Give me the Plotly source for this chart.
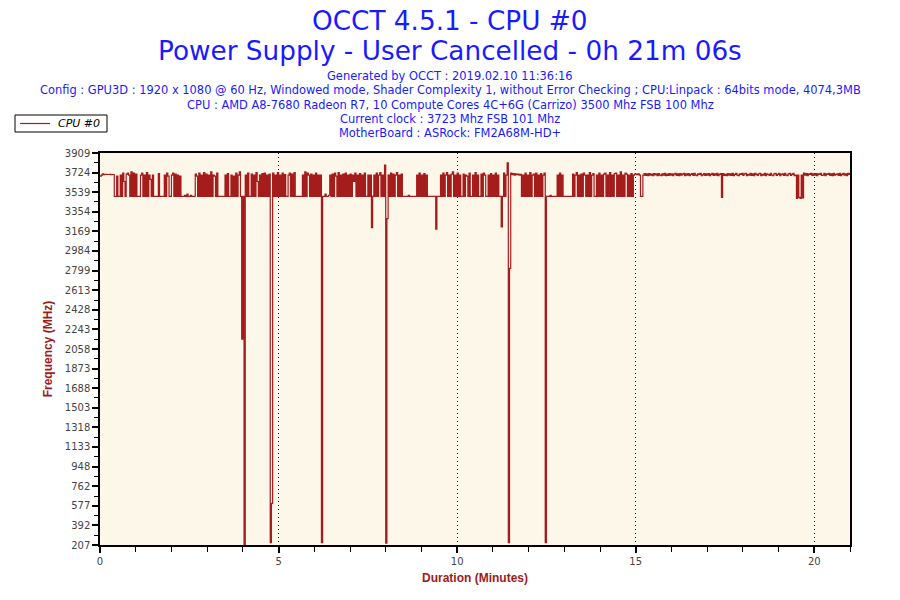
import plotly.graph_objects as go

# ---- data: CPU #0 clock (MHz), one row per minute, one value every 2 s ----
SAMPLE_SECONDS = 2
clock_rows = [
    # 0
    [3690, 3700, 3712, 3705, 3708, 3708, 3706, 3706, 3707, 3705, 3706, 3706, 3500, 3500, 3690,
     3500, 3500, 3700, 3500, 3720, 3640, 3500, 3710, 3720, 3700, 3500, 3730, 3500, 3720, 3500],
    # 1
    [3710, 3500, 3500, 3500, 3700, 3720, 3500, 3700, 3500, 3725, 3500, 3700, 3660, 3500, 3700,
     3500, 3500, 3500, 3500, 3715, 3500, 3500, 3500, 3500, 3700, 3500, 3720, 3690, 3500, 3500],
    # 2
    [3700, 3720, 3500, 3710, 3500, 3700, 3500, 3690, 3500, 3500, 3500, 3510, 3500, 3520, 3500,
     3500, 3510, 3500, 3500, 3500, 3710, 3690, 3500, 3720, 3500, 3700, 3500, 3725, 3500, 3710],
    # 3
    [3500, 3700, 3500, 3730, 3500, 3700, 3690, 3500, 3720, 3500, 3500, 3500, 3500, 3500, 3500,
     3700, 3500, 3715, 3500, 3500, 3700, 3500, 3690, 3500, 3720, 3500, 3700, 3730, 3500, 2150],
    # 4
    [3500, 207, 3700, 3500, 3720, 3500, 3500, 3710, 3500, 3700, 3500, 3725, 3640, 3500, 3700,
     3500, 3715, 3500, 3720, 3500, 3700, 3500, 3710, 230, 600, 3720, 3500, 3700, 3500, 3725],
    # 5
    [3500, 3700, 3500, 3720, 3500, 3705, 3500, 3500, 3700, 3720, 3500, 3710, 3500, 3725, 3500,
     3500, 3500, 3500, 3500, 3500, 3700, 3500, 3730, 3500, 3720, 3700, 3500, 3710, 3500, 3700],
    # 6
    [3500, 3720, 3500, 3700, 3500, 3700, 230, 3500, 3500, 3520, 3500, 3500, 3510, 3700, 3500,
     3710, 3500, 3720, 3690, 3500, 3725, 3500, 3700, 3500, 3710, 3500, 3720, 3500, 3700, 3500],
    # 7
    [3710, 3500, 3700, 3640, 3720, 3500, 3700, 3500, 3715, 3500, 3700, 3500, 3720, 3500, 3500,
     3700, 3500, 3700, 3205, 3500, 3700, 3500, 3720, 3500, 3700, 3725, 3500, 3700, 3500, 3795],
    # 8
    [225, 3290, 3700, 3500, 3720, 3500, 3710, 3500, 3700, 3725, 3500, 3700, 3500, 3710, 3500,
     3500, 3500, 3500, 3500, 3510, 3500, 3500, 3500, 3500, 3500, 3500, 3700, 3500, 3720, 3500],
    # 9
    [3700, 3500, 3715, 3500, 3700, 3500, 3500, 3500, 3500, 3500, 3500, 3500, 3190, 3500, 3500,
     3500, 3700, 3500, 3720, 3500, 3700, 3725, 3500, 3700, 3500, 3710, 3730, 3500, 3700, 3500],
    # 10
    [3720, 3500, 3700, 3500, 3500, 3710, 3500, 3700, 3690, 3500, 3720, 3500, 3500, 3700, 3500,
     3725, 3500, 3700, 3500, 3500, 3710, 3500, 3720, 3700, 3500, 3500, 3700, 3500, 3715, 3500],
    # 11
    [3700, 3500, 3720, 3500, 3700, 3500, 3500, 3212, 3500, 3720, 3500, 3700, 3815, 230, 2820,
     3720, 3705, 3715, 3700, 3712, 3705, 3710, 3700, 3708, 3500, 3700, 3500, 3720, 3500, 3700],
    # 12
    [3500, 3725, 3500, 3700, 3710, 3500, 3720, 3500, 3700, 3500, 3715, 3500, 3700, 3720, 230,
     3500, 3500, 3500, 3510, 3500, 3500, 3500, 3500, 3500, 3700, 3500, 3720, 3500, 3700, 3500],
    # 13
    [3500, 3500, 3500, 3500, 3500, 3500, 3500, 3710, 3500, 3700, 3725, 3500, 3700, 3500, 3710,
     3500, 3720, 3700, 3500, 3700, 3500, 3725, 3500, 3700, 3715, 3500, 3500, 3700, 3500, 3720],
    # 14
    [3500, 3700, 3500, 3710, 3720, 3500, 3700, 3500, 3725, 3500, 3700, 3500, 3715, 3720, 3500,
     3700, 3500, 3730, 3500, 3700, 3500, 3720, 3710, 3500, 3700, 3500, 3715, 3500, 3700, 3710],
    # 15
    [3710, 3705, 3712, 3700, 3500, 3500, 3700, 3714, 3698, 3712, 3696, 3714, 3700, 3710, 3694,
     3714, 3702, 3712, 3696, 3714, 3700, 3694, 3712, 3700, 3716, 3696, 3710, 3698, 3714, 3700],
    # 16
    [3712, 3696, 3710, 3716, 3698, 3712, 3694, 3714, 3700, 3710, 3716, 3696, 3712, 3700, 3714,
     3694, 3708, 3714, 3698, 3716, 3700, 3694, 3712, 3706, 3716, 3696, 3702, 3714, 3698, 3712],
    # 17
    [3700, 3714, 3694, 3708, 3716, 3698, 3712, 3700, 3716, 3696, 3708, 3714, 3490, 3714, 3698,
     3708, 3694, 3714, 3700, 3712, 3698, 3716, 3694, 3708, 3716, 3700, 3696, 3712, 3706, 3716],
    # 18
    [3698, 3712, 3716, 3694, 3708, 3700, 3716, 3698, 3712, 3694, 3716, 3708, 3698, 3712, 3716,
     3696, 3708, 3700, 3716, 3694, 3712, 3706, 3698, 3716, 3700, 3694, 3712, 3716, 3698, 3708],
    # 19
    [3716, 3694, 3708, 3712, 3698, 3716, 3700, 3694, 3712, 3716, 3698, 3708, 3716, 3696, 3700,
     3480, 3700, 3490, 3480, 3700, 3485, 3720, 3700, 3714, 3696, 3712, 3706, 3716, 3698, 3712],
    # 20
    [3700, 3714, 3694, 3712, 3706, 3716, 3698, 3700, 3716, 3694, 3712, 3706, 3716, 3698, 3712,
     3694, 3716, 3700, 3708, 3712, 3698, 3716, 3694, 3708, 3716, 3700, 3712, 3696, 3716, 3706],
    # 21
    [3712, 3698, 3714],
]

mhz = [v for row in clock_rows for v in row]
times = [i * SAMPLE_SECONDS / 60 for i in range(len(mhz))]  # sample clock in minutes

y_ticks = [207, 392, 577, 762, 948, 1133, 1318, 1503, 1688, 1873, 2058, 2243,
           2428, 2613, 2799, 2984, 3169, 3354, 3539, 3724, 3909]
x_ticks = [0, 5, 10, 15, 20]

title_lines = ["OCCT 4.5.1 - CPU #0", "Power Supply - User Cancelled - 0h 21m 06s"]
info_lines = [
    "Generated by OCCT : 2019.02.10 11:36:16",
    "Config : GPU3D : 1920 x 1080 @ 60 Hz, Windowed mode, Shader Complexity 1, without Error Checking ; CPU:Linpack : 64bits mode, 4074,3MB",
    "CPU : AMD A8-7680 Radeon R7, 10 Compute Cores 4C+6G (Carrizo) 3500 Mhz FSB 100 Mhz",
    "Current clock : 3723 Mhz FSB 101 Mhz",
    "MotherBoard : ASRock: FM2A68M-HD+",
]
series_name = "CPU #0"

LINE = "#a51c1c"
BLUE = "#1a1aff"
AXIS_RED = "#9e1b1b"

# page body margin is removed by a post script, so the figure fills the 900x600 window
FIG_W, FIG_H = 900, 600
PX_L, PX_R, PX_T, PX_B = 100, 850, 153, 545   # plot area in page pixels


def px_x(x):
    return (x - PX_L) / (PX_R - PX_L)


def px_y(y):
    return (PX_B - y) / (PX_B - PX_T)


fig = go.Figure()
fig.add_trace(go.Scatter(
    x=times, y=mhz, mode="lines", line=dict(color=LINE, width=1.2, shape="hv"),
    name=series_name, showlegend=False,
))

annotations = []
for i, t in enumerate(title_lines):
    annotations.append(dict(text=t, x=px_x(450), y=px_y(21 + 30 * i), xref="paper", yref="paper",
                            xanchor="center", yanchor="middle", showarrow=False,
                            font=dict(family="DejaVu Sans", size=26.3, color=BLUE)))
for i, t in enumerate(info_lines):
    annotations.append(dict(text=t, x=px_x(450), y=px_y(76 + 14.3 * i), xref="paper", yref="paper",
                            xanchor="center", yanchor="middle", showarrow=False,
                            font=dict(family="DejaVu Sans", size=11.45, color=BLUE)))
# legend box (manual, so it does not push the plot margins)
annotations.append(dict(text="<i>" + series_name + "</i>", x=px_x(56), y=px_y(123.5), xref="paper", yref="paper",
                        xanchor="left", yanchor="middle", showarrow=False,
                        font=dict(family="DejaVu Sans", size=11, color="black")))
shapes = [
    dict(type="rect", xref="paper", yref="paper", x0=px_x(15), x1=px_x(107), y0=px_y(132), y1=px_y(115),
         line=dict(color="black", width=1), fillcolor="white", layer="above"),
    dict(type="line", xref="paper", yref="paper", x0=px_x(20), x1=px_x(50), y0=px_y(123.5), y1=px_y(123.5),
         line=dict(color=LINE, width=1.2), layer="above"),
]

fig.update_layout(
    width=FIG_W, height=FIG_H,
    margin=dict(l=PX_L, r=FIG_W - PX_R, t=PX_T, b=FIG_H - PX_B, autoexpand=False),
    paper_bgcolor="white", plot_bgcolor="#fdf7e9",
    showlegend=False,
    annotations=annotations,
    shapes=shapes,
    xaxis=dict(range=[0, 21.0], tickvals=x_ticks, ticktext=[str(v) for v in x_ticks],
               automargin=False,
               showline=True, linecolor="black", linewidth=1.5, mirror=True,
               ticks="outside", ticklen=6, tickcolor="black", tickwidth=1.5,
               minor=dict(dtick=1, ticks="outside", ticklen=5, tickcolor="black", tickwidth=1.2, showgrid=False),
               showgrid=True, gridcolor="black", gridwidth=1, griddash="1px,3px",
               zeroline=False,
               tickfont=dict(family="DejaVu Sans", size=10, color="#444"),
               title=dict(text="Duration (Minutes)", standoff=8,
                          font=dict(family="Liberation Sans", size=12, color=AXIS_RED, weight="bold"))),
    yaxis=dict(range=[207, 3909], tickvals=y_ticks, ticktext=[str(v) for v in y_ticks],
               automargin=False,
               showline=True, linecolor="black", linewidth=1.5, mirror=True,
               ticks="outside", ticklen=6, tickcolor="black", tickwidth=1.5,
               minor=dict(tickvals=[(a + b) / 2 for a, b in zip(y_ticks[:-1], y_ticks[1:])],
                          ticks="outside", ticklen=4, tickcolor="black", tickwidth=1.2, showgrid=False),
               showgrid=False, zeroline=False,
               tickfont=dict(family="DejaVu Sans", size=10, color="#444"),
               title=dict(text="Frequency (MHz)", standoff=10,
                          font=dict(family="Liberation Sans", size=12, color=AXIS_RED, weight="bold"))),
)

fig.write_html("out.html",
               config={"displayModeBar": False},
               post_script="document.body.style.margin='0px'; document.body.style.overflow='hidden';")
